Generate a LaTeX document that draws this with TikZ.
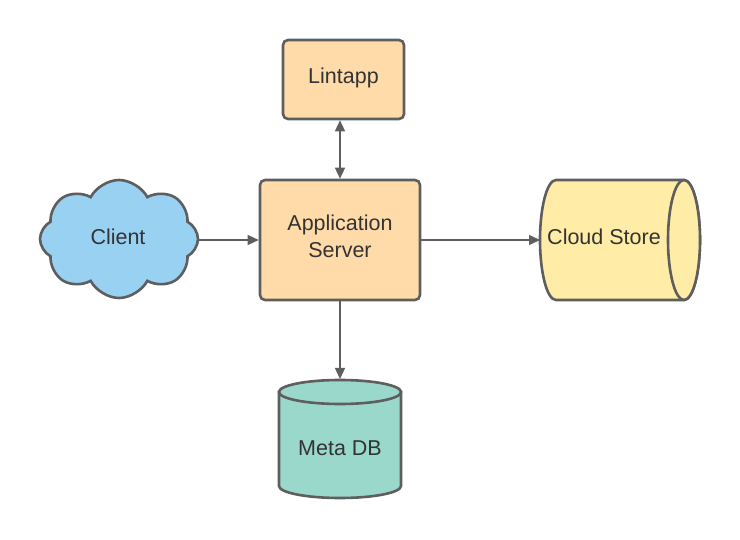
\documentclass[tikz,border=0pt]{standalone}
\usepackage{fontspec}
\setmainfont{Liberation Sans}
\usetikzlibrary{arrows.meta,shapes.symbols}
\definecolor{edge}{HTML}{5E5E5E}
\definecolor{txt}{HTML}{333333}
\definecolor{orangefill}{HTML}{FFDBA9}
\definecolor{bluefill}{HTML}{99D1F2}
\definecolor{yellowfill}{HTML}{FFECA6}
\definecolor{tealfill}{HTML}{9AD8CB}
\begin{document}
\begin{tikzpicture}[x=1pt,y=-1pt,
  shapeline/.style={draw=edge,line width=2.6pt},
  boxnode/.style={shapeline,fill=orangefill,rounded corners=5pt,inner sep=0pt},
  lbl/.style={text=txt,font=\fontsize{21.5}{27}\selectfont,align=center},
  conn/.style={draw=edge,line width=1.4pt,-{Triangle[length=11pt,width=10pt]}},
  dconn/.style={draw=edge,line width=1.4pt,{Triangle[length=11pt,width=10pt]}-{Triangle[length=11pt,width=10pt]}}]
\useasboundingbox (0,0) rectangle (740,540);
% Lintapp
\node[boxnode,minimum width=121pt,minimum height=79pt] (lint) at (343.5,79.5) {};
\node[lbl] (lintlbl) at (343.5,78) {Lintapp};
% Application server
\node[boxnode,minimum width=160pt,minimum height=120pt] (app) at (340,240) {};
\node[lbl] (applbl) at (340,236) {Application\\Server};
% Client cloud
\node[cloud,cloud puffs=8,cloud puff arc=125,aspect=1.35,shapeline,fill=bluefill,minimum width=158pt,minimum height=118pt,inner sep=0pt,shape border rotate=10] (client) at (119,239) {};
\node[lbl] (clientlbl) at (118,237) {Client};
% Cloud store cylinder (horizontal)
\path[shapeline,fill=yellowfill] (556,180) -- (684,180) arc[start angle=-90,end angle=90,x radius=16,y radius=60] -- (556,300) arc[start angle=90,end angle=270,x radius=16,y radius=60] -- cycle;
\draw[shapeline,fill=yellowfill] (684,240) ellipse[x radius=16,y radius=60];
\coordinate (store) at (540,240);
\node[lbl] (storelbl) at (604,237) {Cloud Store};
% Meta DB cylinder (vertical)
\path[shapeline,fill=tealfill] (279,392) -- (279,486) arc[start angle=180,end angle=0,x radius=61,y radius=12] -- (401,392) -- cycle;
\draw[shapeline,fill=tealfill] (340,392) ellipse[x radius=61,y radius=12];
\coordinate (db) at (340,379);
\node[lbl] (dblbl) at (340,448) {Meta DB};
% connectors
\draw[conn] (client.east |- app.west) -- (app.west);
\draw[conn] (app.east) -- (store);
\draw[conn] (app.south) -- (db);
\draw[dconn] (lint.south -| app.north) -- (app.north);
\end{tikzpicture}
\end{document}
